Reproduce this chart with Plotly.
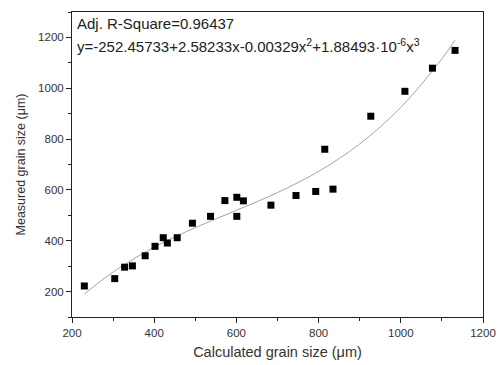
import plotly.graph_objects as go

calc_size = [230, 304, 328, 347, 378, 402, 422, 432, 456, 493, 537, 572, 601, 601, 617,
             684, 745, 793, 815, 835, 927, 1010, 1077, 1132]
meas_size = [222, 251, 296, 301, 341, 378, 412, 391, 412, 469, 496, 558, 571, 496, 557,
             540, 578, 594, 760, 603, 890, 988, 1079, 1149]

fit_x = [230, 300, 400, 500, 600, 700, 800, 900, 1000, 1100, 1132]
fit_y = [190.4, 277.0, 374.7, 451.8, 519.6, 589.6, 672.9, 780.9, 924.8, 1116.0, 1189.0]

FONT = "Arial, Liberation Sans, sans-serif"

fig = go.Figure()
fig.add_trace(go.Scatter(x=fit_x, y=fit_y, mode="lines", line=dict(color="#999999", width=0.9, shape="spline"),
                         showlegend=False, hoverinfo="skip"))
fig.add_trace(go.Scatter(x=calc_size, y=meas_size, mode="markers",
                         marker=dict(symbol="square", size=7, color="black"), showlegend=False))

axis_common = dict(showline=True, linecolor="#222", linewidth=1, mirror=True, ticks="outside",
                   ticklen=5, tickwidth=1, tickcolor="#222", showgrid=False, zeroline=False,
                   automargin=False,
                   tickfont=dict(family=FONT, size=11.5, color="#333"),
                   minor=dict(ticks="outside", ticklen=3, tickwidth=1, tickcolor="#222", dtick=100))

fig.update_xaxes(range=[200, 1200], dtick=200, tick0=200,
                 title=dict(text="Calculated grain size (μm)", font=dict(family=FONT, size=14.5, color="#333"), standoff=9),
                 **axis_common)
fig.update_yaxes(range=[100, 1300], dtick=200, tick0=200,
                 title=dict(text="Measured grain size (μm)", font=dict(family=FONT, size=12.5, color="#333"), standoff=9),
                 **axis_common)

fig.add_annotation(x=0.007, y=0.961, xref="paper", yref="paper", xanchor="left", yanchor="middle",
                   text="Adj. R-Square=0.96437", showarrow=False,
                   font=dict(family=FONT, size=15, color="#222"))
fig.add_annotation(x=0.007, y=0.889, xref="paper", yref="paper", xanchor="left", yanchor="middle",
                   text="y=-252.45733+2.58233x-0.00329x<sup>2</sup>+1.88493·10<sup>-6</sup>x<sup>3</sup>",
                   showarrow=False, font=dict(family=FONT, size=15, color="#222"))

fig.update_layout(width=498, height=365, margin=dict(l=72, r=15, t=12, b=48),
                  paper_bgcolor="white", plot_bgcolor="white", font=dict(family=FONT))

fig.write_html("out.html")
